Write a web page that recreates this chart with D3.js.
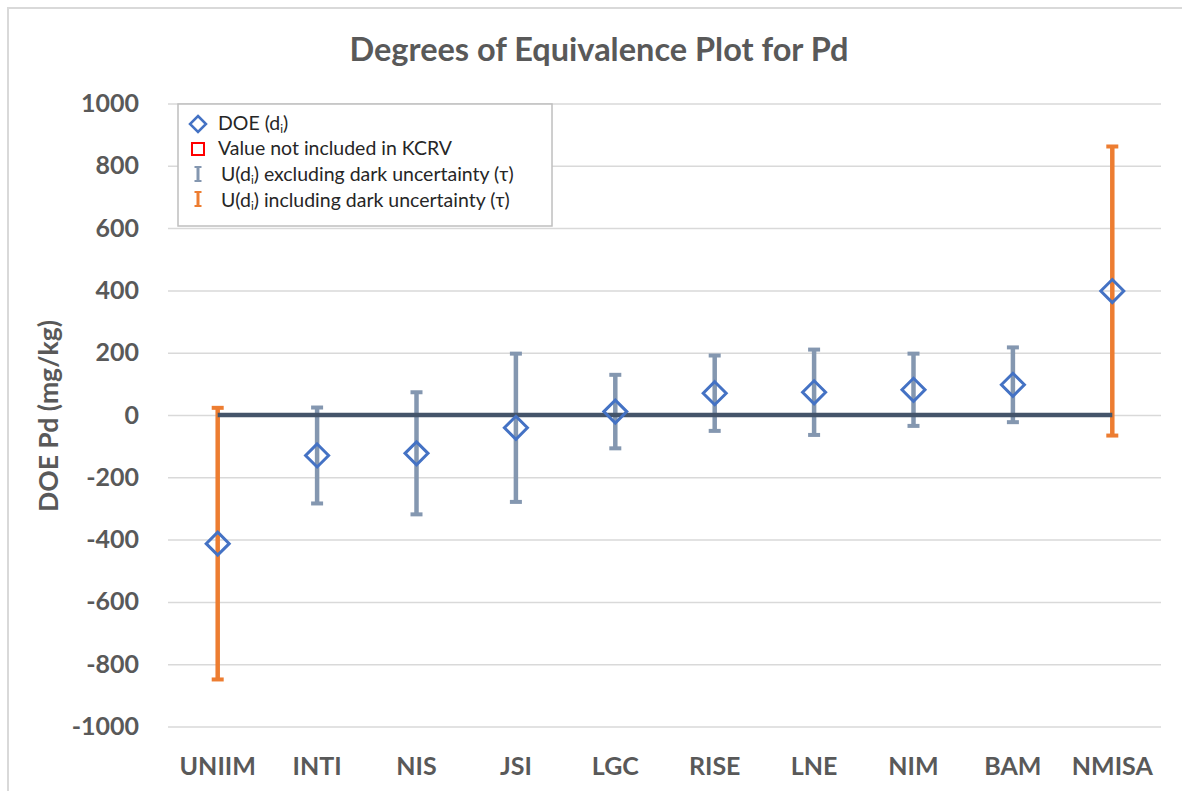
<!DOCTYPE html>
<html>
<head>
<meta charset="utf-8">
<script src="https://cdn.jsdelivr.net/npm/d3@7"></script>
<style>
  html, body { margin: 0; padding: 0; background: #fff; }
  svg { display: block; font-family: Lato, "Open Sans", sans-serif; }
</style>
</head>
<body>
<svg id="chart" width="1182" height="791"></svg>
<script>
// ---- data ----
const categories = ["UNIIM", "INTI", "NIS", "JSI", "LGC", "RISE", "LNE", "NIM", "BAM", "NMISA"];
const doe        = [-413, -130, -123, -41, 11, 70, 73, 81, 97, 398];
// expanded uncertainty excluding dark uncertainty (half-width); null = not shown
const uExcl      = [null, 154, 196, 238, 118, 121, 137, 116, 120, null];
// expanded uncertainty including dark uncertainty (half-width); null = not shown
const uIncl      = [436, null, null, null, null, null, null, null, null, 464];
const yTicks     = [1000, 800, 600, 400, 200, 0, -200, -400, -600, -800, -1000];
const titleText  = "Degrees of Equivalence Plot for Pd";
const yLabel     = "DOE Pd (mg/kg)";

const svg = d3.select("#chart");

// frame
svg.append("path")
  .attr("d", "M8,791 L8,8 L1182,8")
  .attr("fill", "none").attr("stroke", "#d9d9d9").attr("stroke-width", 2);

const x = d3.scaleBand().domain(categories).range([168, 1162]).padding(0);
const y = d3.scaleLinear().domain([-1000, 1000]).range([726.5, 103.5]);
const cx = c => x(c) + x.bandwidth() / 2;

function fit(sel, target) {
  const n = sel.node();
  const fs = parseFloat(sel.attr("font-size"));
  const w = n.getComputedTextLength();
  if (w > 0) sel.attr("font-size", (fs * target / w).toFixed(2));
  return sel;
}

// gridlines + y tick labels
const yAxis = d3.axisLeft(y).tickValues(yTicks).tickSize(-(1161 - 168))
  .tickFormat(d => String(d)).tickPadding(29);
const gy = svg.append("g").attr("transform", "translate(168,0)").call(yAxis);
gy.select(".domain").remove();
gy.selectAll(".tick line").attr("stroke", "#d9d9d9").attr("stroke-width", 1.5);
gy.selectAll(".tick text")
  .attr("fill", "#595959").attr("font-weight", "bold").attr("font-size", 25)
  .attr("font-family", "Lato, sans-serif");

// x axis labels
const xAxis = d3.axisBottom(x).tickSize(0).tickPadding(0);
const gx = svg.append("g").attr("transform", "translate(0,757)").call(xAxis);
gx.select(".domain").remove();
gx.selectAll(".tick text")
  .attr("fill", "#595959").attr("font-weight", "bold").attr("font-size", 25)
  .attr("font-family", "Lato, sans-serif").attr("dy", "0.71em");

// title
const t = svg.append("text").attr("x", 599).attr("y", 61).attr("text-anchor", "middle")
  .attr("font-size", 28).attr("font-weight", "bold").attr("fill", "#595959").text(titleText);
fit(t, 499);

// y label
const yl = svg.append("text").attr("transform", "translate(58,416) rotate(-90)")
  .attr("text-anchor", "middle").attr("font-size", 22).attr("font-weight", "bold")
  .attr("fill", "#595959").text(yLabel);
fit(yl, 192);

const pts = categories.map((c, i) => ({ c, v: doe[i], ue: uExcl[i], ui: uIncl[i] }));

// error bars
function drawBars(key, color, cls) {
  const g = svg.append("g").attr("class", cls);
  const d = pts.filter(p => p[key] != null);
  g.selectAll("line.v").data(d).join("line").attr("class", "v")
    .attr("x1", p => cx(p.c)).attr("x2", p => cx(p.c))
    .attr("y1", p => y(p.v + p[key])).attr("y2", p => y(p.v - p[key]))
    .attr("stroke", color).attr("stroke-width", 4.5);
  ["top", "bot"].forEach(side => {
    g.selectAll("line." + side).data(d).join("line").attr("class", side)
      .attr("x1", p => cx(p.c) - 6).attr("x2", p => cx(p.c) + 6)
      .attr("y1", p => y(side === "top" ? p.v + p[key] : p.v - p[key]))
      .attr("y2", p => y(side === "top" ? p.v + p[key] : p.v - p[key]))
      .attr("stroke", color).attr("stroke-width", 4);
  });
}
drawBars("ue", "#8497b0", "excl");
drawBars("ui", "#ed7d31", "incl");

// zero (KCRV) line
svg.append("line")
  .attr("x1", cx(categories[0])).attr("x2", cx(categories[categories.length - 1]))
  .attr("y1", y(0)).attr("y2", y(0))
  .attr("stroke", "#44546a").attr("stroke-width", 4.5);

// diamonds
const dsz = 11.5;
svg.append("g").selectAll("path").data(pts).join("path")
  .attr("d", p => `M${cx(p.c)},${y(p.v) - dsz} L${cx(p.c) + dsz},${y(p.v)} L${cx(p.c)},${y(p.v) + dsz} L${cx(p.c) - dsz},${y(p.v)} Z`)
  .attr("fill", "none").attr("stroke", "#4472c4").attr("stroke-width", 3);

// legend
const lg = svg.append("g");
lg.append("rect").attr("x", 178).attr("y", 104).attr("width", 374).attr("height", 122)
  .attr("fill", "#fff").attr("stroke", "#bfbfbf").attr("stroke-width", 1.5);
const lx = 198;
lg.append("path").attr("d", `M${lx},${124 - 8} L${lx + 8},124 L${lx},${124 + 8} L${lx - 8},124 Z`)
  .attr("fill", "none").attr("stroke", "#4472c4").attr("stroke-width", 2.5);
lg.append("rect").attr("x", lx - 6).attr("y", 149 - 6).attr("width", 12).attr("height", 12)
  .attr("fill", "none").attr("stroke", "#ff0000").attr("stroke-width", 2);
[[174, "#8497b0"], [199, "#ed7d31"]].forEach(([cy, col]) => {
  lg.append("line").attr("x1", lx).attr("x2", lx).attr("y1", cy - 7).attr("y2", cy + 7)
    .attr("stroke", col).attr("stroke-width", 3);
  [cy - 7, cy + 7].forEach(yy => lg.append("line").attr("x1", lx - 3.5).attr("x2", lx + 3.5)
    .attr("y1", yy).attr("y2", yy).attr("stroke", col).attr("stroke-width", 2));
});
// common legend font size from the reference width of one entry
const probe = lg.append("text").attr("font-size", 17).text("Value not included in KCRV");
fit(probe, 234);
const lfs = parseFloat(probe.attr("font-size"));
probe.remove();
function legText(xx, yy, parts) {
  const tx = lg.append("text").attr("x", xx).attr("y", yy).attr("font-size", lfs).attr("fill", "#262626");
  parts.forEach(p => {
    const ts = tx.append("tspan").text(p.t);
    if (p.sub) ts.attr("font-size", "0.6em").attr("dy", "0.25em");
    if (p.after) ts.attr("dy", "-0.15em");
  });
  return tx;
}
legText(218, 130, [{ t: "DOE (d" }, { t: "i", sub: true }, { t: ")", after: true }]);
legText(218, 155, [{ t: "Value not included in KCRV" }]);
legText(221, 181, [{ t: "U(d" }, { t: "i", sub: true }, { t: ") excluding dark uncertainty (τ)", after: true }]);
legText(221, 207, [{ t: "U(d" }, { t: "i", sub: true }, { t: ") including dark uncertainty (τ)", after: true }]);
</script>
</body>
</html>
